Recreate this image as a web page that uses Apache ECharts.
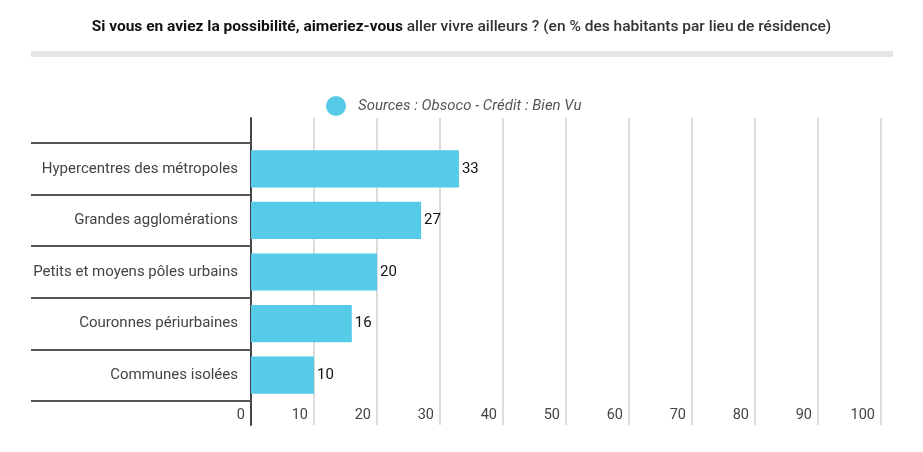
<!DOCTYPE html>
<html><head><meta charset="utf-8">
<script src="https://cdn.jsdelivr.net/npm/echarts@6/dist/echarts.min.js"></script>
<style>html,body{margin:0;padding:0;background:#fff}#c{width:923px;height:452px}</style>
</head><body><div id="c"></div>
<script>
const categories = ["Hypercentres des métropoles","Grandes agglomérations","Petits et moyens pôles urbains","Couronnes périurbaines","Communes isolées"];
const values = [33,27,20,16,10];
const seriesName = "Sources : Obsoco - Crédit : Bien Vu";
const titleBold = "Si vous en aviez la possibilité, aimeriez-vous";
const titleRest = " aller vivre ailleurs ? (en % des habitants par lieu de résidence)";
const xMin = 0, xMax = 100, xStep = 10;

const chart = echarts.init(document.getElementById('c'), null, {renderer:'canvas'});
const FONT = 'Roboto';
chart.setOption({
  animation:false,
  textStyle:{fontFamily:FONT},
  title:{
    left:'center', top:14,
    text:'{a|'+titleBold+'}{b|'+titleRest+'}',
    textStyle:{rich:{
      a:{fontFamily:FONT,fontSize:15.5,fontWeight:'bold',color:'#111'},
      b:{fontFamily:FONT,fontSize:15.5,fontWeight:500,color:'#333'}
    }}
  },
  graphic:[{type:'rect',shape:{x:31,y:51,width:862,height:6},style:{fill:'#e6e6e6'},silent:true}],
  legend:{
    top:91, left:321,
    icon:'circle', itemWidth:20, itemHeight:20, itemGap:12,
    textStyle:{fontFamily:FONT,fontSize:15,fontStyle:'italic',color:'#555',padding:[0,0,0,7]},
    data:[seriesName]
  },
  grid:[
    {left:251, right:42, top:143, bottom:51},
    {left:251, right:42, top:118, bottom:27}
  ],
  xAxis:[
    {gridIndex:0,type:'value',min:xMin,max:xMax,interval:xStep,show:false},
    {gridIndex:1,type:'value',min:xMin,max:xMax,interval:xStep,
     axisLine:{show:false},axisTick:{show:false},
     splitLine:{show:true,lineStyle:{color:'#dcdcdc',width:2}},
     axisLabel:{inside:true,margin:2,align:'right',verticalAlign:'bottom',padding:[0,6,0,0],
       fontFamily:FONT,fontSize:14.5,color:'#444'}}
  ],
  yAxis:[
    {gridIndex:0,type:'category',data:categories,inverse:true,
     axisLine:{show:false},
     axisTick:{show:true,length:220,lineStyle:{color:'#555',width:2}},
     axisLabel:{margin:13,fontFamily:FONT,fontSize:15,color:'#444'},
     splitLine:{show:false}},
    {gridIndex:1,type:'value',min:0,max:1,
     axisLine:{show:true,onZero:false,lineStyle:{color:'#444',width:2}},
     axisTick:{show:false},axisLabel:{show:false},splitLine:{show:false}}
  ],
  series:[{
    name:seriesName,type:'bar',xAxisIndex:0,yAxisIndex:0,
    data:values,barWidth:'72%',
    itemStyle:{color:'#55cbe8'},
    label:{show:true,position:'right',distance:3,fontFamily:FONT,fontSize:15,color:'#111'}
  }]
});
</script></body></html>
